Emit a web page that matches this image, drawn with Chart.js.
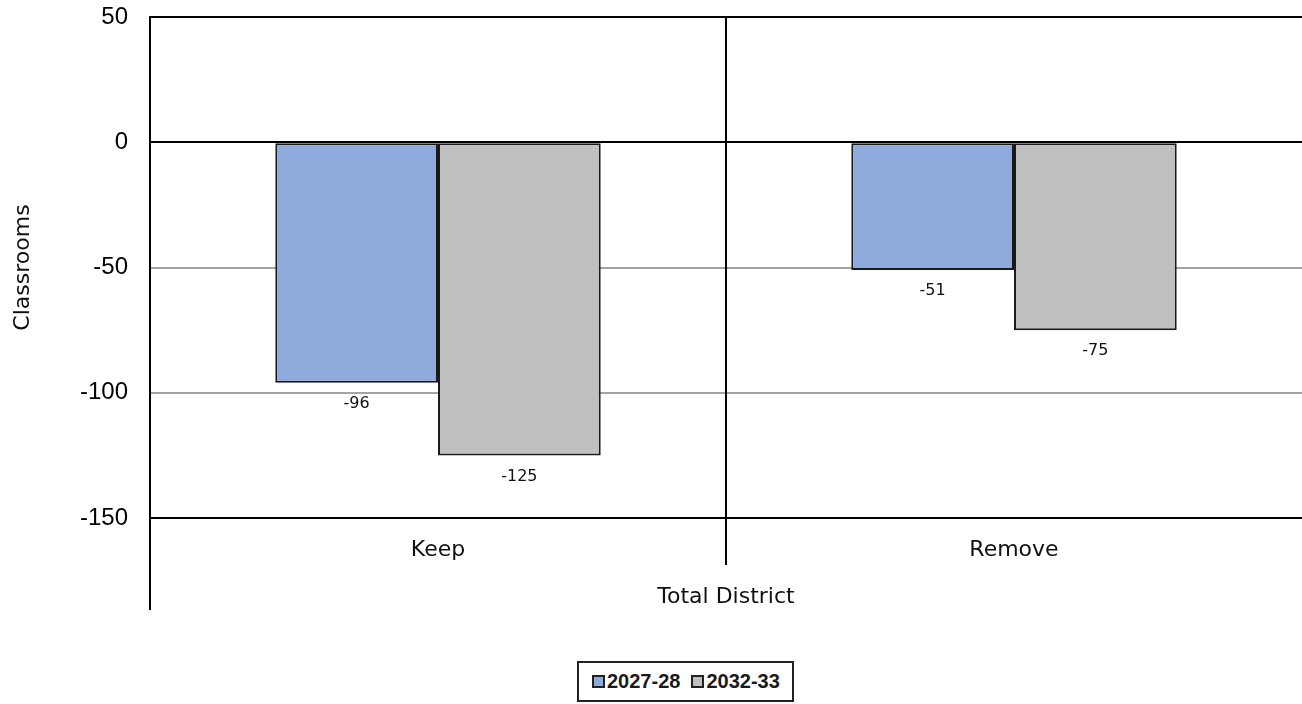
<!DOCTYPE html>
<html>
<head>
<meta charset="utf-8">
<title>Classrooms – Total District</title>
<script src="https://cdn.jsdelivr.net/npm/chart.js@4.4.1/dist/chart.umd.min.js"></script>
<style>
  html, body { margin: 0; padding: 0; background: #fff; overflow: hidden; }
  #wrap { position: relative; width: 1302px; height: 704px; }
  canvas { display: block; }
  #legend {
    position: absolute; left: 577px; top: 661px; width: 217px; height: 41px;
    box-sizing: border-box; border: 2px solid #222; background: #fff;
    display: flex; align-items: center; padding-left: 13px; white-space: nowrap;
    font-family: "Liberation Sans", Arial, sans-serif; font-size: 20px; font-weight: 600; color: #1a1a1a;
  }
  .item { display: flex; align-items: center; margin-right: 11px; white-space: nowrap; flex: none; }
  .swatch { width: 13px; height: 13px; box-sizing: border-box; border: 2px solid #222; margin-right: 2px; flex: none; }
</style>
</head>
<body>
<div id="wrap">
  <canvas id="chart" width="1302" height="704"></canvas>
  <div id="legend"></div>
</div>
<script>
// Category groups on the x axis
const categories = ['Keep', 'Remove'];
// Series names and their values (change in classrooms)
const seriesNames = ['2027-28', '2032-33'];
const values2027 = [-96, -51];
const values2032 = [-125, -75];
// Y axis tick values
const yTicks = [50, 0, -50, -100, -150];

const seriesColors = ['#8FAADC', '#C0C0C0'];
const labelFont = '"DejaVu Sans", "Noto Sans", sans-serif';

// Group separators and the extended left axis line below the plot
const separators = {
  id: 'separators',
  afterDatasetsDraw(chart) {
    const { ctx, chartArea } = chart;
    const x = chart.scales.x;
    const mid = (x.getPixelForValue(0) + x.getPixelForValue(1)) / 2;
    ctx.save();
    ctx.strokeStyle = '#000';
    ctx.lineWidth = 2;
    ctx.beginPath();
    ctx.moveTo(chartArea.left, chartArea.top);
    ctx.lineTo(chartArea.left, chartArea.bottom + 92);
    ctx.moveTo(mid, chartArea.top);
    ctx.lineTo(mid, chartArea.bottom + 47);
    ctx.stroke();
    ctx.restore();
  }
};

// Value labels centred under each bar end
const valueLabels = {
  id: 'valueLabels',
  afterDatasetsDraw(chart) {
    const { ctx } = chart;
    ctx.save();
    ctx.font = '16px ' + labelFont;
    ctx.fillStyle = '#111';
    ctx.textAlign = 'center';
    ctx.textBaseline = 'middle';
    chart.data.datasets.forEach((ds, i) => {
      chart.getDatasetMeta(i).data.forEach((el, j) => {
        const v = ds.data[j];
        const y = v < 0 ? el.y + 21 : el.y - 21;
        ctx.fillText(String(v), el.x, y);
      });
    });
    ctx.restore();
  }
};

const chart = new Chart(document.getElementById('chart'), {
  type: 'bar',
  data: {
    labels: categories,
    datasets: [
      { label: seriesNames[0], data: values2027, backgroundColor: seriesColors[0] },
      { label: seriesNames[1], data: values2032, backgroundColor: seriesColors[1] }
    ].map(d => Object.assign(d, {
      borderColor: '#1a1a1a', borderWidth: 2, borderSkipped: false,
      categoryPercentage: 0.565, barPercentage: 1
    }))
  },
  options: {
    responsive: false,
    devicePixelRatio: 1,
    animation: false,
    layout: { padding: { top: 17, right: 0, bottom: 76, left: 0 } },
    plugins: { legend: { display: false }, tooltip: { enabled: false } },
    scales: {
      x: {
        grid: { display: false, drawTicks: false },
        border: { display: true, color: '#000', width: 2 },
        ticks: { color: '#111', padding: 19, font: { family: labelFont, size: 22 } },
        title: { display: true, text: 'Total District', color: '#111',
                 font: { family: labelFont, size: 22 }, padding: { top: 0, bottom: 18 } },
        afterFit(scale) { scale.height = 110; scale.paddingLeft = 0; scale.paddingRight = 0; }
      },
      y: {
        min: -150, max: 50,
        afterBuildTicks(scale) { scale.ticks = yTicks.map(v => ({ value: v })); },
        grid: {
          drawTicks: false,
          lineWidth: 2,
          color: ctx => (ctx.tick && (ctx.tick.value === 0 || ctx.tick.value === 50 || ctx.tick.value === -150)) ? '#000' : '#a3a3a3'
        },
        border: { display: true, color: '#000', width: 2 },
        ticks: { color: '#000', padding: 22, font: { family: '"Liberation Sans", Arial, sans-serif', size: 24 } },
        title: { display: true, text: 'Classrooms', color: '#111',
                 font: { family: labelFont, size: 22 }, padding: { top: 10, bottom: 0 } },
        afterFit(scale) { scale.width = 150; scale.paddingTop = 0; scale.paddingBottom = 0; }
      }
    }
  },
  plugins: [separators, valueLabels]
});

// Legend built from the series names and colours
const legend = document.getElementById('legend');
seriesNames.forEach((name, i) => {
  const item = document.createElement('div');
  item.className = 'item';
  const sw = document.createElement('span');
  sw.className = 'swatch';
  sw.style.background = seriesColors[i];
  const txt = document.createElement('span');
  txt.textContent = name;
  item.appendChild(sw);
  item.appendChild(txt);
  legend.appendChild(item);
});
</script>
</body>
</html>
